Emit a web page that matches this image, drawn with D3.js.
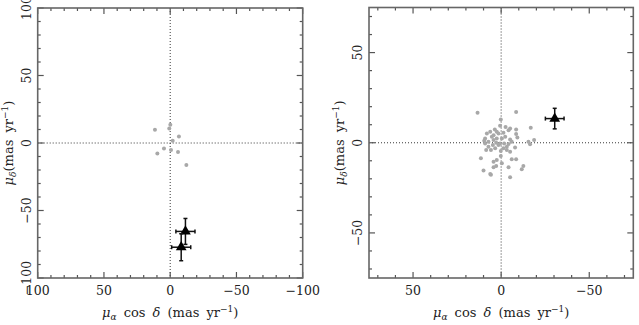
<!DOCTYPE html>
<html>
<head>
<meta charset="utf-8">
<script src="https://cdn.jsdelivr.net/npm/d3@7.9.0/dist/d3.min.js"></script>
<style>
  html, body { margin: 0; padding: 0; background: #fff; }
  svg text { font-family: "DejaVu Serif", "Liberation Serif", serif; fill: #222; }
</style>
</head>
<body>
<svg id="chart" width="639" height="325"></svg>
<script>
// left panel: field stars (grey) and the two targets with error bars
const leftFieldX = [11.5, 0.7, -0.1, -6.6, -1.9, 4.7, 9.7, -0.6, -5.9, -12.2];
const leftFieldY = [9.9, 10.8, 13.6, 4.9, 1.7, -4.0, -7.7, -5.2, -6.7, -16.3];
const leftStarX = [-11.5, -8.3];
const leftStarY = [-65.5, -77.2];
const leftStarXErr = [7.2, 7.2];
const leftStarYErr = [9.6, 10.0];
const leftTicksX = [100, 50, 0, -50, -100];
const leftTicksY = [100, 50, 0, -50, -100];

// right panel
const rightFieldX = [13.4, -8.5, 0.2, -16.8, -8.5, -2.5, 0.6, 3.6, 2.5, 6.2, 8.1, 4.3, 1.5, -1.3, -4.2,
  -5.1, -8.5, -9.2, 9.1, 9.6, 7.2, 4.3, 2.5, -0.4, -2.3, -5.1, -6.0, -15.5, -18.7, -16.4,
  8.5, 5.8, 3.4, -1.3, -3.2, -5.1, -7.9, 0.2, 11.5, 4.3, 2.5, 0.2, -6.0, -8.5, -0.4,
  4.3, 2.8, -4.2, -12.6, -11.7, 10.0, 5.8, -5.1, 9.1, 7.2, 1.5, 4.7, -1.7, -4.2, -3.2,
  0.6, 2.8, 5.3, 6.2];
const rightFieldY = [16.7, 17.1, 12.9, 8.3, 7.4, 8.8, 9.4, 7.4, 6.1, 6.1, 5.1, 4.2, 5.1, 5.5, 7.0,
  7.9, 4.8, 2.9, 2.4, 1.1, 0.6, 1.5, 2.4, 2.4, 3.3, 1.8, 0.6, 0.6, 1.5, -0.9,
  -4.0, -4.0, -3.1, -3.1, -4.0, -5.0, -2.6, -4.6, -8.6, -10.5, -9.6, -7.4, -9.2, -9.2, -11.4,
  -13.6, -12.9, -13.6, -12.9, -14.7, -15.4, -17.8, -19.1, -0.4, -2.2, -1.3, -1.3, -0.4, -0.7, -2.2,
  -0.4, 0.0, 3.3, -17.3];
const rightStarX = [-30.4];
const rightStarY = [13.4];
const rightStarXErr = [5.3];
const rightStarYErr = [5.7];
const rightTicksX = [50, 0, -50];
const rightTicksY = [50, 0, -50];

const svg = d3.select('#chart');

function fmt(v) {
  return v < 0 ? '\u2212' + Math.abs(v) : String(v);
}

function drawPanel(opt) {
  const { left, right, top, bottom, xDom, yDom, fieldX, fieldY, starX, starY, starXErr, starYErr, ticksX, ticksY } = opt;
  const x = d3.scaleLinear().domain(xDom).range([left, right]);
  const y = d3.scaleLinear().domain(yDom).range([bottom, top]);
  const g = svg.append('g');

  // zero lines
  g.append('line').attr('x1', x(0)).attr('x2', x(0)).attr('y1', top).attr('y2', bottom)
    .attr('stroke', '#222').attr('stroke-width', 0.9).attr('stroke-dasharray', '1,2');
  g.append('line').attr('x1', left).attr('x2', right).attr('y1', y(0)).attr('y2', y(0))
    .attr('stroke', '#222').attr('stroke-width', 0.9).attr('stroke-dasharray', '1,2');

  // minor + major ticks, pointing inward on all sides
  const minorX = d3.range(Math.ceil(Math.min(...xDom) / 10) * 10, Math.max(...xDom) + 0.1, 10);
  const minorY = d3.range(Math.ceil(Math.min(...yDom) / 10) * 10, Math.max(...yDom) + 0.1, 10);
  const tickCol = '#555';
  minorX.forEach(v => {
    const len = v % 50 === 0 ? 6 : 3;
    g.append('line').attr('x1', x(v)).attr('x2', x(v)).attr('y1', bottom).attr('y2', bottom - len).attr('stroke', tickCol).attr('stroke-width', 1.2);
    g.append('line').attr('x1', x(v)).attr('x2', x(v)).attr('y1', top).attr('y2', top + len).attr('stroke', tickCol).attr('stroke-width', 1.2);
  });
  minorY.forEach(v => {
    const len = v % 50 === 0 ? 6 : 3;
    g.append('line').attr('y1', y(v)).attr('y2', y(v)).attr('x1', left).attr('x2', left + len).attr('stroke', tickCol).attr('stroke-width', 1.2);
    g.append('line').attr('y1', y(v)).attr('y2', y(v)).attr('x1', right).attr('x2', right - len).attr('stroke', tickCol).attr('stroke-width', 1.2);
  });

  // frame
  g.append('rect').attr('x', left).attr('y', top).attr('width', right - left).attr('height', bottom - top)
    .attr('fill', 'none').attr('stroke', '#666').attr('stroke-width', 1.6);

  // tick labels
  ticksX.forEach(v => {
    g.append('text').attr('x', x(v)).attr('y', bottom + 17).attr('text-anchor', 'middle')
      .attr('font-size', 12.5).text(fmt(v));
  });
  ticksY.forEach(v => {
    g.append('text').attr('transform', `translate(${left - 7},${y(v)}) rotate(-90)`)
      .attr('text-anchor', 'middle').attr('font-size', 12.5).text(fmt(v));
  });

  // field stars
  g.selectAll('circle.field').data(d3.range(fieldX.length)).join('circle')
    .attr('class', 'field')
    .attr('cx', i => x(fieldX[i])).attr('cy', i => y(fieldY[i])).attr('r', 2)
    .attr('fill', '#a8a8a8');

  // targets with error bars
  starX.forEach((sx, i) => {
    const cx = x(sx), cy = y(starY[i]);
    const xa = x(sx - starXErr[i]), xb = x(sx + starXErr[i]);
    const ya = y(starY[i] - starYErr[i]), yb = y(starY[i] + starYErr[i]);
    const ln = (x1, y1, x2, y2) => g.append('line')
      .attr('x1', x1).attr('y1', y1).attr('x2', x2).attr('y2', y2)
      .attr('stroke', '#111').attr('stroke-width', 1.5);
    ln(xa, cy, xb, cy);
    ln(cx, ya, cx, yb);
    ln(xa, cy - 2, xa, cy + 2);
    ln(xb, cy - 2, xb, cy + 2);
    ln(cx - 2, ya, cx + 2, ya);
    ln(cx - 2, yb, cx + 2, yb);
    g.append('path').attr('d', d3.symbol(d3.symbolTriangle, 50)())
      .attr('transform', `translate(${cx},${cy})`).attr('fill', '#000');
  });

  // axis titles
  const xt = g.append('text').attr('x', (left + right) / 2).attr('y', bottom + 39)
    .attr('text-anchor', 'middle').attr('font-size', 13).attr('word-spacing', 3);
  xt.append('tspan').attr('font-style', 'italic').text('\u03bc');
  xt.append('tspan').attr('font-size', 9).attr('font-style', 'italic').attr('dy', 3).text('\u03b1');
  xt.append('tspan').attr('dy', -3).text(' cos ');
  xt.append('tspan').attr('font-style', 'italic').text('\u03b4');
  xt.append('tspan').text(' (mas yr');
  xt.append('tspan').attr('font-size', 9).attr('dy', -5).text('\u22121');
  xt.append('tspan').attr('dy', 5).text(')');

  const yt = g.append('text').attr('transform', `translate(${left - 25},${(top + bottom) / 2}) rotate(-90)`)
    .attr('text-anchor', 'middle').attr('font-size', 13).attr('word-spacing', 3);
  yt.append('tspan').attr('font-style', 'italic').text('\u03bc');
  yt.append('tspan').attr('font-size', 9).attr('font-style', 'italic').attr('dy', 3).text('\u03b4');
  yt.append('tspan').attr('dy', -3).text('(mas yr');
  yt.append('tspan').attr('font-size', 9).attr('dy', -5).text('\u22121');
  yt.append('tspan').attr('dy', 5).text(')');
}

drawPanel({
  left: 37.7, right: 302.7, top: 8, bottom: 278,
  xDom: [100, -100], yDom: [-100, 100],
  fieldX: leftFieldX, fieldY: leftFieldY,
  starX: leftStarX, starY: leftStarY, starXErr: leftStarXErr, starYErr: leftStarYErr,
  ticksX: leftTicksX, ticksY: leftTicksY
});

drawPanel({
  left: 369, right: 633.3, top: 7.5, bottom: 278,
  xDom: [75, -75], yDom: [-75, 75],
  fieldX: rightFieldX, fieldY: rightFieldY,
  starX: rightStarX, starY: rightStarY, starXErr: rightStarXErr, starYErr: rightStarYErr,
  ticksX: rightTicksX, ticksY: rightTicksY
});
</script>
</body>
</html>
